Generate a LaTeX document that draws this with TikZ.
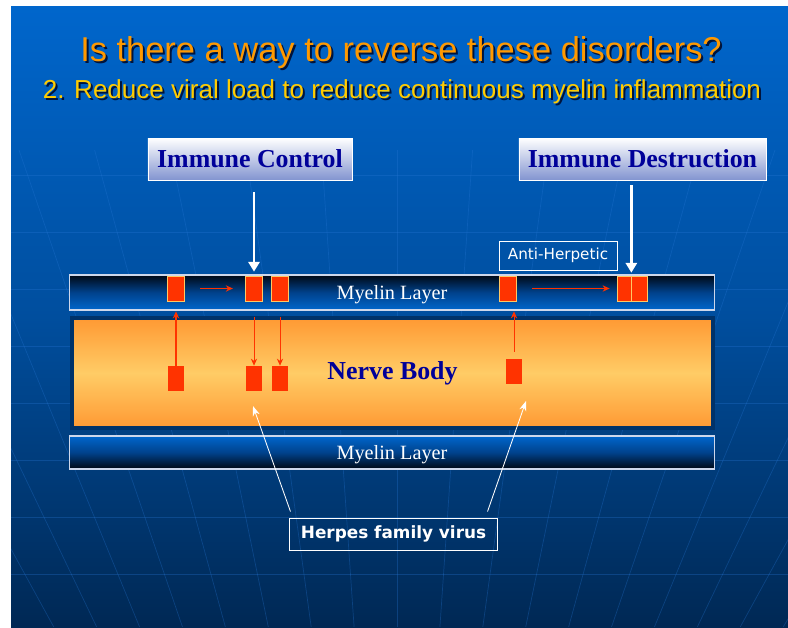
\documentclass[tikz,border=0pt]{standalone}
\usepackage{fontspec}
\setmainfont{Liberation Serif}
\newfontfamily\arialfont{Liberation Sans}
\newfontfamily\verdfont{DejaVu Sans}
\usetikzlibrary{arrows.meta,calc}

\definecolor{slidetop}{RGB}{0,102,204}
\definecolor{slidemid}{RGB}{0,78,158}
\definecolor{slidebottom}{RGB}{0,40,84}
\definecolor{gridblue}{RGB}{40,120,215}
\definecolor{titleorange}{RGB}{255,153,0}
\definecolor{subyellow}{RGB}{255,204,0}
\definecolor{shadowcol}{RGB}{0,20,60}
\definecolor{navytext}{RGB}{0,0,153}
\definecolor{boxblue}{RGB}{130,148,208}
\definecolor{myelinblue}{RGB}{0,102,204}
\definecolor{myelinmid}{RGB}{0,66,140}
\definecolor{myelindark}{RGB}{0,8,20}
\definecolor{myelinedge}{RGB}{205,215,235}
\definecolor{nerveorange}{RGB}{255,153,51}
\definecolor{nervelight}{RGB}{255,204,102}
\definecolor{nerveedge}{RGB}{0,50,105}
\definecolor{virusred}{RGB}{255,51,0}
\definecolor{virusedge}{RGB}{255,200,100}

\tikzset{
    gridline/.style={draw=gridblue, line width=0.5pt, opacity=0.3},
    titlefont/.style={font=\arialfont\fontsize{24.5}{28}\selectfont},
    subfont/.style={font=\arialfont\fontsize{18.5}{21}\selectfont},
    labelbox/.style={draw=white, line width=0.6pt, top color=white, bottom color=boxblue,
        text=navytext, font=\bfseries\fontsize{18.4}{20}\selectfont,
        minimum height=1.05cm, inner sep=0pt},
    whitebox/.style={draw=white, line width=0.7pt, text=white, inner sep=0pt},
    myelin/.style={draw=myelinedge, line width=0.8pt, minimum width=16.1cm, text=white,
        font=\fontsize{14.4}{16}\selectfont, text depth=0pt, inner sep=0pt},
    nervebody/.style={draw=nerveedge, line width=2.5pt, top color=nerveorange,
        bottom color=nerveorange, middle color=nervelight, text=navytext,
        font=\bfseries\fontsize{18.4}{20}\selectfont,
        minimum width=16.03cm, minimum height=2.75cm, inner sep=0pt},
    virus/.style={fill=virusred, draw=virusedge, line width=0.5pt,
        minimum width=0.44cm, minimum height=0.625cm, inner sep=0pt},
    redarrow/.style={draw=virusred, line width=0.7pt, -{Stealth[length=5pt,width=4.5pt]}},
    whitearrow/.style={draw=white, line width=2.1pt, -{Triangle[length=7pt,width=8pt]}},
    pointer/.style={draw=white, line width=0.6pt, -{Stealth[length=7pt,width=5pt]}}
}

\begin{document}
\begin{tikzpicture}[x=0.025cm, y=-0.025cm]
    % Page and slide background
    \useasboundingbox (0, 0) rectangle (788, 627);
    \fill[white] (0, 0) rectangle (788, 627);
    \shade[top color=slidetop, bottom color=slidebottom, middle color=slidemid] (11, 6) rectangle (788, 627);

    % Faint globe grid
    \begin{scope}
        \clip (11, 6) rectangle (788, 627);
        \foreach \y in {175, 232, ..., 600}
            \draw[gridline] (11, \y) -- (788, \y);
        \foreach \k in {-9, ..., 9}
            \draw[gridline] ({397 + \k*75.6}, 150) -- ({397 + \k*42.9}, 627);
    \end{scope}

    % Title lines with shadow
    \node[titlefont, anchor=base, text=shadowcol] (titleshade) at (403, 63) {Is there a way to reverse these disorders?};
    \node[titlefont, anchor=base, text=titleorange] (title) at (401, 61) {Is there a way to reverse these disorders?};
    \node[subfont, anchor=base, text=shadowcol] (subshade) at (404, 100) {2. Reduce viral load to reduce continuous myelin inflammation};
    \node[subfont, anchor=base, text=subyellow] (subtitle) at (402, 98) {2. Reduce viral load to reduce continuous myelin inflammation};

    % Label boxes
    \node[labelbox, minimum width=5.1cm] (ctrl) at (250, 159) {Immune Control};
    \node[labelbox, minimum width=6.175cm] (destr) at (642.5, 159) {Immune Destruction};
    \node[whitebox, minimum width=2.95cm, minimum height=0.725cm,
        font=\verdfont\fontsize{10.8}{12}\selectfont] (anti) at (558, 255.5) {Anti-Herpetic};

    % Myelin layers and nerve body
    \node[myelin, top color=myelindark, bottom color=myelinblue, middle color=myelinmid,
        minimum height=0.875cm] (mtop) at (392, 292.5) {Myelin Layer};
    \node[nervebody] (nerve) at (392.5, 373) {Nerve Body};
    \node[myelin, top color=myelinblue, bottom color=myelindark, middle color=myelinmid,
        minimum height=0.825cm] (mbot) at (392, 452.5) {Myelin Layer};

    % Virus in the myelin
    \node[virus] (m1) at (176, 288.5) {};
    \node[virus] (m2) at (254, 288.5) {};
    \node[virus] (m3) at (280, 288.5) {};
    \node[virus] (m4) at (508, 288.5) {};
    \node[virus, minimum width=0.35cm] (m5) at (624, 288.5) {};
    \node[virus, minimum width=0.4cm] (m6) at (639, 288.5) {};

    % Virus in the nerve
    \node[virus, draw=none, minimum width=0.4cm] (n1) at (176, 378.5) {};
    \node[virus, draw=none, minimum width=0.4cm] (n2) at (254, 378.5) {};
    \node[virus, draw=none, minimum width=0.4cm] (n3) at (280, 378.5) {};
    \node[virus, draw=none, minimum width=0.4cm] (n4) at (514, 371.5) {};

    % Red movement arrows
    \draw[redarrow, line width=1.4pt, shorten >=0.25cm] (n1.north) -- (m1.south);
    \draw[redarrow, shorten <=0.375cm, shorten >=0.3cm] (m1.east) -- (m2.west);
    \draw[redarrow, shorten <=0.4cm] (m2.south) -- (n2.north);
    \draw[redarrow, shorten <=0.4cm] (m3.south) -- (n3.north);
    \draw[redarrow, shorten <=0.175cm, shorten >=0.25cm] (n4.north) -- (n4.north |- m4.south);
    \draw[redarrow, shorten <=0.375cm, shorten >=0.175cm] (m4.east) -- (m5.west);

    % White immune arrows
    \draw[whitearrow, shorten <=0.3cm, shorten >=0.1cm] (m2.north |- ctrl.south) -- (m2.north);
    \draw[whitearrow, shorten <=0.125cm, shorten >=0.075cm] (m5.north east |- destr.south) -- (m5.north east);

    % Herpes label and its pointers
    \node[whitebox, minimum width=5.175cm, minimum height=0.8cm,
        font=\verdfont\bfseries\fontsize{12}{14}\selectfont] (herpes) at (393.5, 534) {Herpes family virus};
    \coordinate (vleft) at (253, 406);
    \coordinate (vright) at (526, 401);
    \draw[pointer] ($(herpes.north west) + (1, -6)$) -- (vleft);
    \draw[pointer] ($(herpes.north east) + (-10, -6)$) -- (vright);
\end{tikzpicture}
\end{document}
